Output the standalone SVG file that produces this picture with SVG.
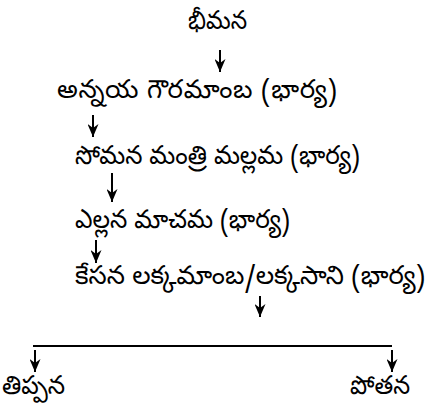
<svg xmlns="http://www.w3.org/2000/svg" width="427" height="410" viewBox="0 0 427 410">
<defs>
<marker id="ah" viewBox="0 0 13 11" refX="13" refY="5.5" markerWidth="13" markerHeight="11" markerUnits="userSpaceOnUse" orient="auto">
<path d="M0,0 L4,5.5 L0,11 L13,5.5 Z" fill="#000"/>
</marker>
</defs>
<style>
text{font-family:"Noto Sans Telugu","Noto Sans","DejaVu Sans",sans-serif;font-size:26px;fill:#000}
.c{stroke:#000;stroke-width:2;fill:none}
</style>
<rect width="427" height="410" fill="#fff"/>
<g id="n1"><text x="188" y="29" textLength="59" lengthAdjust="spacingAndGlyphs">భీమన</text></g>
<g id="n2"><text x="57" y="98" textLength="280">అన్నయ గౌరమాంబ (భార్య)</text></g>
<g id="n3"><text x="75" y="164" textLength="285" lengthAdjust="spacingAndGlyphs">సోమన మంత్రి మల్లమ (భార్య)</text></g>
<g id="n4"><text x="75" y="228" textLength="215" lengthAdjust="spacingAndGlyphs">ఎల్లన మాచమ (భార్య)</text></g>
<g id="n5"><text x="75" y="284" textLength="350" lengthAdjust="spacingAndGlyphs">కేసన లక్కమాంబ/లక్కసాని (భార్య)</text></g>
<g id="n6"><text x="2" y="394" textLength="63" lengthAdjust="spacingAndGlyphs">తిప్పన</text></g>
<g id="n7"><text x="350" y="394" textLength="60" lengthAdjust="spacingAndGlyphs">పోతన</text></g>
<g id="connectors">
<line class="c" x1="220" y1="50" x2="220" y2="72" marker-end="url(#ah)"/>
<line class="c" x1="93" y1="115" x2="93" y2="137" marker-end="url(#ah)"/>
<line class="c" x1="112" y1="173" x2="112" y2="202" marker-end="url(#ah)"/>
<line class="c" x1="96" y1="240" x2="96" y2="263" marker-end="url(#ah)"/>
<line class="c" x1="260" y1="296" x2="260" y2="317" marker-end="url(#ah)"/>
<line class="c" x1="33" y1="346" x2="392" y2="346"/>
<line class="c" x1="35" y1="350" x2="35" y2="372" marker-end="url(#ah)"/>
<line class="c" x1="392" y1="350" x2="392" y2="372" marker-end="url(#ah)"/>
</g>
</svg>
